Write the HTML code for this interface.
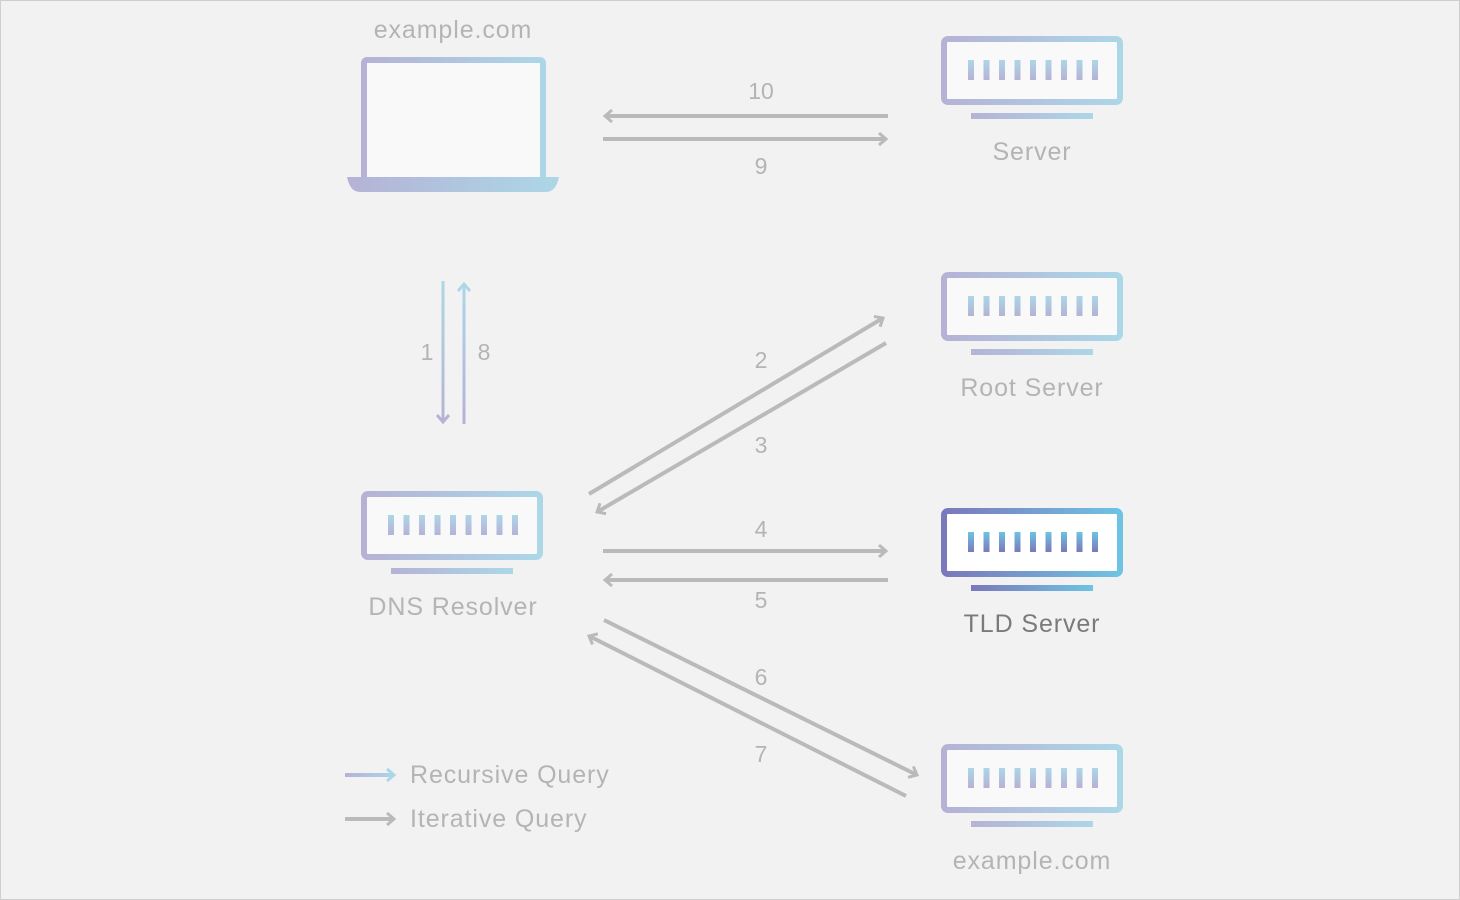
<!DOCTYPE html>
<html><head><meta charset="utf-8"><style>
html,body{margin:0;padding:0;background:#f2f2f2;}
svg{display:block;}
text{font-family:"Liberation Sans",sans-serif;}
.lb{font-size:25px;letter-spacing:0.9px;}
</style></head><body>
<svg width="1460" height="900" viewBox="0 0 1460 900" xmlns="http://www.w3.org/2000/svg">
<defs>
<linearGradient id="gl" x1="0" y1="0" x2="1" y2="0"><stop offset="0" stop-color="#b5b2d6"/><stop offset="1" stop-color="#acd7e7"/></linearGradient>
<linearGradient id="gb" x1="0" y1="1" x2="0" y2="0"><stop offset="0" stop-color="#b5b2d6"/><stop offset="1" stop-color="#acd7e7"/></linearGradient>
<linearGradient id="gd" x1="0" y1="0" x2="1" y2="0"><stop offset="0" stop-color="#7b78bb"/><stop offset="1" stop-color="#6ec3e3"/></linearGradient>
<linearGradient id="gdb" x1="0" y1="1" x2="0" y2="0"><stop offset="0" stop-color="#7b78bb"/><stop offset="1" stop-color="#6ec3e3"/></linearGradient>
<linearGradient id="gv" gradientUnits="userSpaceOnUse" x1="0" y1="281" x2="0" y2="424"><stop offset="0" stop-color="#acd7e7"/><stop offset="1" stop-color="#b5b2d6"/></linearGradient>
<linearGradient id="gh" gradientUnits="userSpaceOnUse" x1="345" y1="0" x2="396" y2="0"><stop offset="0" stop-color="#b5b2d6"/><stop offset="1" stop-color="#acd7e7"/></linearGradient>
<marker id="ah" markerUnits="userSpaceOnUse" markerWidth="20" markerHeight="20" viewBox="-10 -10 20 20" refX="0" refY="0" orient="auto">
<path d="M-7,-6 L0,0 L-7,6" fill="none" stroke="#bababa" stroke-width="3"/></marker>
<marker id="ahp" markerUnits="userSpaceOnUse" markerWidth="20" markerHeight="20" viewBox="-10 -10 20 20" refX="0" refY="0" orient="auto">
<path d="M-7,-6 L0,0 L-7,6" fill="none" stroke="#b5b2d6" stroke-width="3"/></marker>
<marker id="ahb" markerUnits="userSpaceOnUse" markerWidth="20" markerHeight="20" viewBox="-10 -10 20 20" refX="0" refY="0" orient="auto">
<path d="M-7,-6 L0,0 L-7,6" fill="none" stroke="#acd7e7" stroke-width="3"/></marker>
<g id="srv">
<rect x="3" y="3" width="176" height="63" rx="4" fill="#f9f9f9" stroke="url(#gl)" stroke-width="6"/>
<g fill="url(#gb)">
<rect x="27" y="24" width="6" height="20"/><rect x="42.5" y="24" width="6" height="20"/><rect x="58" y="24" width="6" height="20"/><rect x="73.5" y="24" width="6" height="20"/><rect x="89" y="24" width="6" height="20"/><rect x="104.5" y="24" width="6" height="20"/><rect x="120" y="24" width="6" height="20"/><rect x="135.5" y="24" width="6" height="20"/><rect x="151" y="24" width="6" height="20"/>
</g>
<rect x="30" y="77" width="122" height="6" fill="url(#gl)"/>
</g>
<g id="srvd">
<rect x="3" y="3" width="176" height="63" rx="4" fill="#fff" stroke="url(#gd)" stroke-width="6"/>
<g fill="url(#gdb)">
<rect x="27" y="24" width="6" height="20"/><rect x="42.5" y="24" width="6" height="20"/><rect x="58" y="24" width="6" height="20"/><rect x="73.5" y="24" width="6" height="20"/><rect x="89" y="24" width="6" height="20"/><rect x="104.5" y="24" width="6" height="20"/><rect x="120" y="24" width="6" height="20"/><rect x="135.5" y="24" width="6" height="20"/><rect x="151" y="24" width="6" height="20"/>
</g>
<rect x="30" y="77" width="122" height="6" fill="url(#gd)"/>
</g>
</defs>
<rect x="0.5" y="0.5" width="1459" height="899" fill="#f2f2f2" stroke="#cfcfcf"/>

<!-- laptop -->
<rect x="364" y="60" width="179" height="120" rx="3" fill="#f9f9f9" stroke="url(#gl)" stroke-width="6"/>
<path d="M347,177 L559,177 Q556,192 546,192 L360,192 Q350,192 347,177 Z" fill="url(#gl)"/>
<text class="lb" x="453" y="38" fill="#b4b4b4" text-anchor="middle">example.com</text>

<use href="#srv" x="941" y="36"/>
<text class="lb" x="1032" y="160" fill="#b4b4b4" text-anchor="middle">Server</text>
<use href="#srv" x="941" y="272"/>
<text class="lb" x="1032" y="396" fill="#b4b4b4" text-anchor="middle">Root Server</text>
<use href="#srvd" x="941" y="508"/>
<text class="lb" x="1032" y="632" fill="#7a7a7a" text-anchor="middle">TLD Server</text>
<use href="#srv" x="941" y="744"/>
<text class="lb" x="1032" y="869" fill="#b4b4b4" text-anchor="middle">example.com</text>
<use href="#srv" x="361" y="491"/>
<text class="lb" x="453" y="615" fill="#b4b4b4" text-anchor="middle">DNS Resolver</text>

<!-- vertical arrows -->
<path d="M443,281 L443,422" stroke="url(#gv)" stroke-width="3" fill="none" marker-end="url(#ahp)"/>
<path d="M464,424 L464,284" stroke="url(#gv)" stroke-width="3" fill="none" marker-end="url(#ahb)"/>
<text x="427" y="360" font-size="23" fill="#b4b4b4" text-anchor="middle">1</text>
<text x="484" y="360" font-size="23" fill="#b4b4b4" text-anchor="middle">8</text>

<g stroke="#bababa" stroke-width="4" fill="none">
<line x1="888" y1="116" x2="605" y2="116" marker-end="url(#ah)"/>
<line x1="603" y1="139" x2="886" y2="139" marker-end="url(#ah)"/>
<line x1="589" y1="494" x2="883" y2="318" marker-end="url(#ah)"/>
<line x1="886" y1="343" x2="597" y2="512" marker-end="url(#ah)"/>
<line x1="603" y1="551" x2="886" y2="551" marker-end="url(#ah)"/>
<line x1="888" y1="580" x2="605" y2="580" marker-end="url(#ah)"/>
<line x1="604" y1="620" x2="917" y2="775" marker-end="url(#ah)"/>
<line x1="906" y1="796" x2="589" y2="636" marker-end="url(#ah)"/>
<line x1="345" y1="819" x2="394" y2="819" marker-end="url(#ah)"/>
</g>
<path d="M345,775 L394,775" stroke="url(#gh)" stroke-width="4" fill="none" marker-end="url(#ahb)"/>

<g font-size="23" fill="#b4b4b4" text-anchor="middle">
<text x="761" y="99">10</text>
<text x="761" y="174">9</text>
<text x="761" y="368">2</text>
<text x="761" y="453">3</text>
<text x="761" y="537">4</text>
<text x="761" y="608">5</text>
<text x="761" y="685">6</text>
<text x="761" y="762">7</text>
</g>
<text class="lb" x="410" y="783" fill="#b4b4b4">Recursive Query</text>
<text class="lb" x="410" y="827" fill="#b4b4b4">Iterative Query</text>
</svg>
</body></html>
